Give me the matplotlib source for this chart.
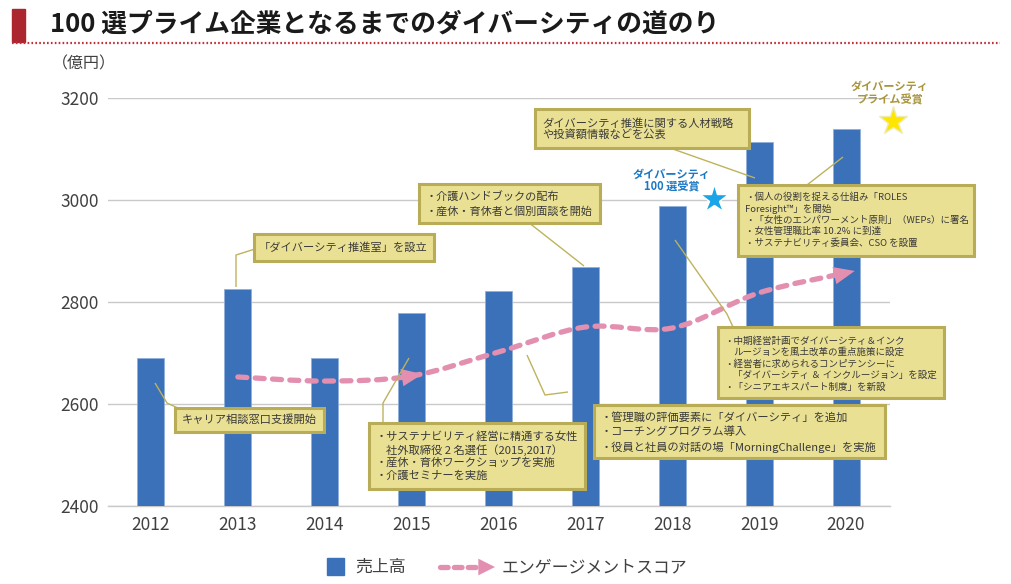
import matplotlib
matplotlib.use('Agg')
import matplotlib.pyplot as plt
import numpy as np
from matplotlib.path import Path
from matplotlib.patches import PathPatch, Rectangle

plt.rcParams['font.family'] = ['Noto Sans CJK JP', 'DejaVu Sans']
plt.rcParams['lines.scale_dashes'] = False

# ---------------- data ----------------
years = ['2012', '2013', '2014', '2015', '2016', '2017', '2018', '2019', '2020']
sales = [2690, 2825, 2690, 2778, 2822, 2869, 2988, 3114, 3139]
eng_years = ['2013', '2014', '2015', '2016', '2017', '2018', '2019', '2020']
engagement = [2653, 2645, 2655, 2702, 2751, 2749, 2818, 2857]
yticks = [2400, 2600, 2800, 3000, 3200]

title = '100 選プライム企業となるまでのダイバーシティの道のり'
unit_label = '（億円）'
legend_labels = ['売上高', 'エンゲージメントスコア']
award_100 = ['ダイバーシティ', '100 選受賞']
award_prime = ['ダイバーシティ', 'プライム受賞']

notes = [
    ['キャリア相談窓口支援開始'],
    ['「ダイバーシティ推進室」を設立'],
    ['・サステナビリティ経営に精通する女性', '社外取締役 2 名選任（2015,2017）',
     '・産休・育休ワークショップを実施', '・介護セミナーを実施'],
    ['・介護ハンドブックの配布', '・産休・育休者と個別面談を開始'],
    ['ダイバーシティ推進に関する人材戦略', 'や投資額情報などを公表'],
    ['・個人の役割を捉える仕組み「ROLES', 'Foresight™」を開始',
     '・「女性のエンパワーメント原則」（WEPs）に署名', '・女性管理職比率 10.2% に到達',
     '・サステナビリティ委員会、CSO を設置'],
    ['・中期経営計画でダイバーシティ＆インク', 'ルージョンを風土改革の重点施策に設定',
     '・経営者に求められるコンピテンシーに', '「ダイバーシティ ＆ インクルージョン」を設定',
     '・「シニアエキスパート制度」を新設'],
    ['・管理職の評価要素に「ダイバーシティ」を追加', '・コーチングプログラム導入',
     '・役員と社員の対話の場「MorningChallenge」を実施'],
]

# ---------------- styles / layout (pixel units) ----------------
W, H = 1011, 584
BAR = '#3A71B8'
PINK = '#E38FB0'
BOX_FILL = '#E9E093'
BOX_EDGE = '#B9AC56'
LEAD = '#BFB25E'
TXT = '#3A3A3A'

# box: x0, y0, x1, y1, text_x, first_line_y, pitch, fontsize, min_fontsize, indent
box_layout = [
    (175, 408, 323, 432, 182, 420, 0, 8.1, 7.6, 0),
    (254, 234, 433, 261, 259, 248, 0, 8.1, 7.6, 0),
    (369, 423, 585, 489, 376, 437, 12.8, 8.1, 7.6, 10),
    (419, 184, 599, 223, 426, 196, 15.5, 8.1, 7.6, 10),
    (535, 109, 749, 148, 542, 123, 11.6, 8.1, 7.6, 0),
    (738, 185, 943, 256, 745, 197, 11.6, 7.2, 6.8, 0),
    (718, 327, 943, 398, 724, 341, 11.5, 7.2, 6.8, 9),
    (594, 405, 885, 458, 601, 417, 15, 8.1, 7.6, 10),
]
leaders = [
    [(155, 383), (167, 403), (180, 409)],
    [(236, 287), (236, 255), (255, 249)],
    [(409, 358), (383, 403), (383, 423)],
    [(528, 222), (584, 266)],
    [(670, 148), (755, 178)],
    [(807, 185), (843, 157)],
    [(675, 240), (727, 314), (733, 327)],
    [(527, 355), (545, 395), (568, 392)],
]

fig = plt.figure(figsize=(W / 100, H / 100), dpi=100)
fig.patch.set_facecolor('white')

# ---------------- main axes ----------------
ax = fig.add_axes([107.5 / W, 1 - 506 / H, 782 / W, 408 / H])
x = np.arange(len(years))
ax.bar(x, sales, width=0.31, color=BAR, edgecolor='#8FB0DC', linewidth=0.6, zorder=3)
ax.set_xlim(-0.5, len(years) - 0.5)
ax.set_ylim(yticks[0], yticks[-1])
ax.set_yticks(yticks)
ax.set_yticklabels([str(t) for t in yticks], fontsize=12.5, color='#404040')
ax.set_xticks(x)
ax.set_xticklabels(years, fontsize=12.5, color='#404040')
ax.tick_params(axis='both', length=0)
ax.tick_params(axis='y', pad=6)
ax.tick_params(axis='x', pad=7)
ax.yaxis.grid(True, color='#C9C9C9', linewidth=1, zorder=0)
ax.set_axisbelow(True)
for s in ['top', 'right', 'left']:
    ax.spines[s].set_visible(False)
ax.spines['bottom'].set_color('#C9C9C9')
ax.spines['bottom'].set_linewidth(1)

# smooth engagement curve (Catmull-Rom -> cubic bezier)
xe = np.array([years.index(v) for v in eng_years], float)
pts = np.column_stack([xe, np.array(engagement, float)])
verts = [pts[0]]
codes = [Path.MOVETO]
n = len(pts)
for i in range(n - 1):
    p0 = pts[i - 1] if i > 0 else pts[i]
    p1, p2 = pts[i], pts[i + 1]
    p3 = pts[i + 2] if i + 2 < n else pts[i + 1]
    verts += [p1 + (p2 - p0) / 6, p2 - (p3 - p1) / 6, p2]
    codes += [Path.CURVE4] * 3
curve = PathPatch(Path(verts, codes), facecolor='none', edgecolor=PINK,
                  linewidth=3.8, linestyle=(0, (6.5, 6)), capstyle='round',
                  joinstyle='round', zorder=5, clip_on=False)
ax.add_patch(curve)


def head(i_pt, ahead):
    """arrowhead along the curve at point index i_pt"""
    if 0 < i_pt < n - 1:
        t = (pts[i_pt + 1] - pts[i_pt - 1]) / 2
    else:
        t = pts[i_pt] - pts[i_pt - 1]
    tip = pts[i_pt] + t * ahead
    tail = pts[i_pt] - t * 0.12
    ax.annotate('', xy=tip, xytext=tail, annotation_clip=False, zorder=6,
                arrowprops=dict(arrowstyle='-|>,head_length=1.0,head_width=0.42',
                                mutation_scale=15, color=PINK, lw=0,
                                shrinkA=0, shrinkB=0))


head(eng_years.index('2015'), 0.125)
head(n - 1, 0.1)

# ---------------- overlay (pixel coords) ----------------
ov = fig.add_axes([0, 0, 1, 1], zorder=10)
ov.set_xlim(0, W)
ov.set_ylim(H, 0)
ov.axis('off')

# title
ov.add_patch(Rectangle((12, 9), 13, 33, color='#AC2630'))
ov.plot([12, 1000], [43, 43], color='#C0303A', lw=1.6, linestyle=(0, (1.2, 1.6)))
ov.text(50, 24, title, fontsize=18.5, fontweight='bold', va='center', ha='left',
        color='#1A1A1A')
ov.text(52, 64, unit_label, fontsize=11.5, va='center', ha='left', color='#404040')

# leader lines
for pl in leaders:
    xs, ys = zip(*pl)
    ov.plot(xs, ys, color=LEAD, lw=1.0, solid_capstyle='butt')

# boxes and texts
fig.canvas.draw()
renderer = fig.canvas.get_renderer()
for lines, (x0, y0, x1, y1, tx, ty, pitch, fs, fmin, ind) in zip(notes, box_layout):
    texts = []
    for k, ln in enumerate(lines):
        dx = ind if (ind and not ln.startswith('・')) else 0
        t = ov.text(tx + dx, ty + k * pitch, ln, fontsize=fs, va='center',
                    ha='left', color=TXT, zorder=3)
        texts.append((t, dx))
    avail = (x1 - 6) - tx
    wmax = max((t.get_window_extent(renderer).width + dx) for t, dx in texts)
    new_fs = fs
    if wmax > avail:
        new_fs = max(fs * avail / wmax, fmin)
        for t, dx in texts:
            t.set_fontsize(new_fs)
        wmax = wmax * new_fs / fs
    x1 = max(x1, tx + wmax + 7)
    ov.add_patch(Rectangle((x0, y0), x1 - x0, y1 - y0, facecolor=BOX_FILL,
                           edgecolor=BOX_EDGE, linewidth=2.2, zorder=2))

# award stars
ov.plot(714, 199, marker='*', ms=21, color='#1AA5E8', mec='white', mew=1.0)
ov.text(672, 174, award_100[0], fontsize=8, fontweight='bold', color='#1A78C6',
        ha='center', va='center')
ov.text(672, 187, award_100[1], fontsize=8, fontweight='bold', color='#1A78C6',
        ha='center', va='center')
ov.plot(893, 121, marker='*', ms=21, color='#FFE600', mec='#EFEBB0', mew=1.0)
ov.text(890, 86, award_prime[0], fontsize=8, fontweight='bold', color='#A8953C',
        ha='center', va='center')
ov.text(890, 100, award_prime[1], fontsize=8, fontweight='bold', color='#A8953C',
        ha='center', va='center')

# legend
ov.add_patch(Rectangle((327, 558), 17, 17, color=BAR))
ov.text(355, 567, legend_labels[0], fontsize=12.2, va='center', ha='left', color='#404040')
ov.plot([440, 483], [567, 567], color=PINK, lw=3.8, linestyle=(0, (5.5, 4.5)),
        solid_capstyle='round', dash_capstyle='round')
ov.annotate('', xy=(495, 567), xytext=(478, 567),
            arrowprops=dict(arrowstyle='-|>,head_length=0.8,head_width=0.4',
                            mutation_scale=15, color=PINK, lw=0, shrinkA=0, shrinkB=0))
ov.text(502, 567, legend_labels[1], fontsize=12.2, va='center', ha='left', color='#404040')

fig.savefig('out.png', dpi=100)
